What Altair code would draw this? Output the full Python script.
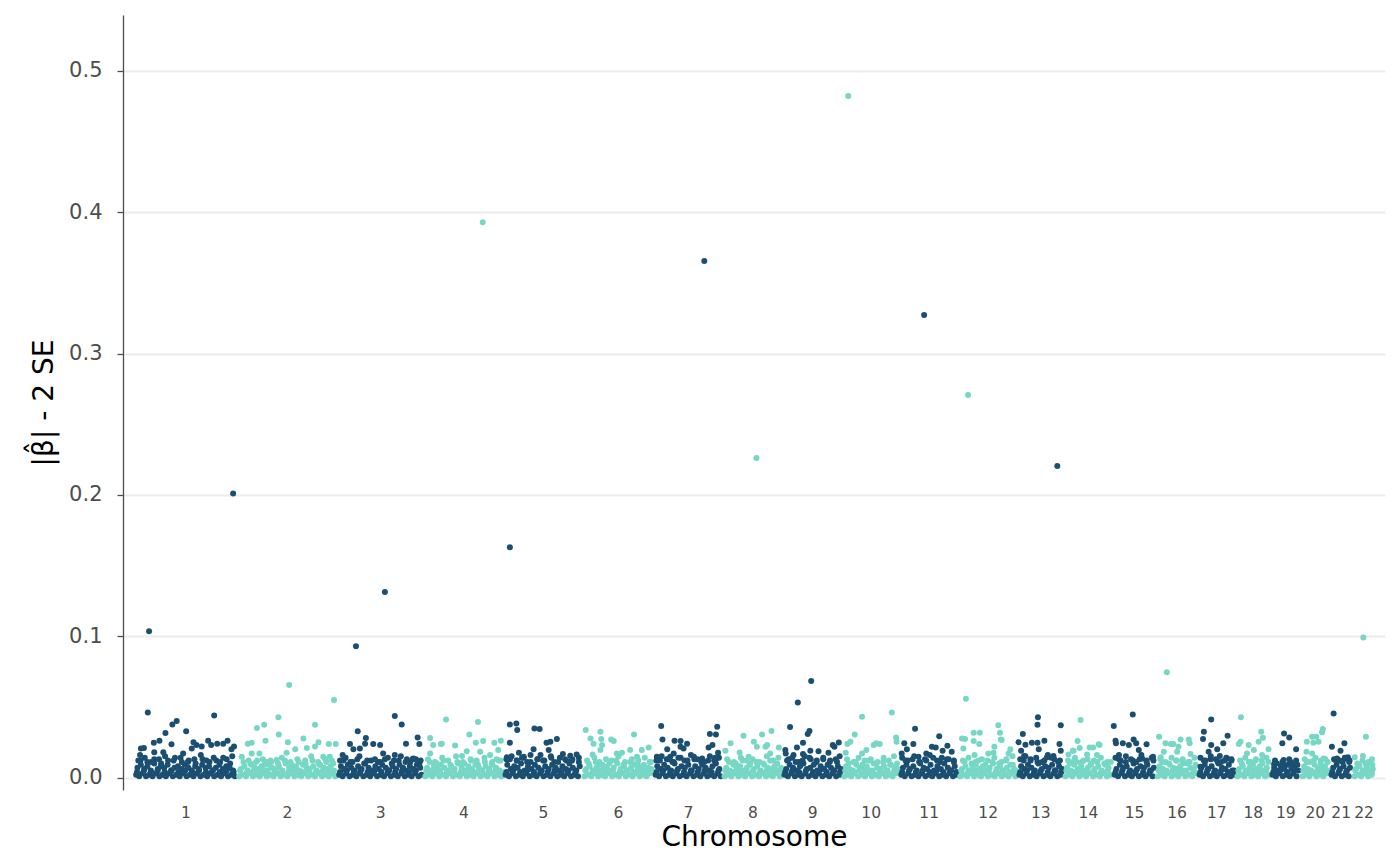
import altair as alt
import pandas as pd

chrom_names = [str(i) for i in range(1, 23)]
chrom_len_mb = [239, 232, 200, 186, 183, 165, 160, 139, 139, 132, 137, 137,
                107, 114, 100, 97, 88, 81, 70, 67, 53, 53]
y_ticks = [0.0, 0.1, 0.2, 0.3, 0.4, 0.5]
colors = ["#1B4F72", "#76D7C4"]

# (position within chromosome in Mb, value x 1000)
c01 = [(5,2),(8,7),(12,1),(16,9),(20,3),(24,6),(28,1),(31,8),(35,2),(39,5),(43,1),(47,10),(51,3),(55,6),(59,1),(62,8),(66,2),(70,7),(74,1),(78,9),(82,3),(86,5),(90,1),(94,7),(98,2),(102,8),(106,1),(110,6),(114,3),(118,9),(122,1),(126,7),(130,2),(134,5),(138,1),(142,8),(146,3),(150,6),(154,1),(158,9),(162,2),(166,7),(170,1),(174,8),(178,3),(182,5),(186,1),(190,7),(194,2),(198,9),(202,1),(206,6),(210,3),(214,8),(218,1),(222,7),(226,2),(230,5),(234,1),
       (10,12),(25,14),(40,11),(58,13),(72,15),(92,12),(108,14),(125,11),(140,13),(155,16),(168,12),(185,14),(200,11),(215,13),(228,15),
       (14,16),(16,20.6),(23,21),(32,46),(35,103.6),(46,24.6),(47,18),(59,26),(68,18),(73,31.5),(87,23.5),(89,37.6),(99,40),(114,17),(121,32.7),(134,20.6),(138,25),(145,23),(157,22),(172,26),(179,23),(186,44),(193,24),(207,24),(217,26),(226,20),(230,201),(232,22)]
c02 = [(5,1),(9,6),(13,2),(17,8),(21,1),(25,5),(29,3),(33,9),(37,1),(41,7),(45,2),(49,6),(53,1),(57,8),(61,3),(65,5),(69,1),(73,9),(77,2),(81,7),(85,1),(89,6),(93,3),(97,8),(101,1),(105,5),(109,2),(113,10),(117,1),(121,7),(125,3),(129,6),(133,1),(137,8),(141,2),(145,5),(149,1),(153,9),(157,3),(161,7),(165,1),(169,6),(173,2),(177,8),(181,1),(185,5),(189,3),(193,9),(197,1),(201,7),(205,2),(209,6),(213,1),(217,8),(221,3),(225,5),(228,1),
       (11,14.7),(27,12),(44,11),(60,13),(78,12),(92,12.4),(104,14),(124,11),(140,13),(158,12),(172,15),(188,11),(205,13),(220,12),
       (25,24),(34,24.6),(34,17),(46,35),(52,17),(63,37.4),(66,26),(69,11),(96,42.6),(97,30.5),(115,17.5),(118,25),(121,65.5),(135,20),(154,27.7),(162,21),(181,37.4),(181,22),(189,25),(200,14.7),(213,23.7),(215,14.7),(225,54.8),(229,23.7)]
c03 = [(5,2),(9,8),(13,1),(17,6),(21,3),(25,9),(29,1),(33,7),(37,2),(41,5),(45,1),(49,8),(53,3),(57,6),(61,1),(65,10),(69,2),(73,7),(77,1),(81,5),(85,3),(89,8),(93,1),(97,6),(101,2),(105,9),(109,1),(113,7),(117,3),(121,5),(125,1),(129,8),(133,2),(137,6),(141,1),(145,9),(149,3),(153,7),(157,1),(161,5),(165,2),(169,8),(173,1),(177,6),(181,3),(185,9),(189,1),(193,7),(196,2),
       (7,12),(20,14),(36,11),(52,15),(70,12),(88,13),(100,11),(118,14),(132,12),(148,15),(170,11),(183,13),(194,12),
       (13,16),(30,23.7),(38,20),(44,93),(48,32.7),(53,20.6),(65,24),(67,28),(84,23.7),(100,23),(107,17),(111,131.3),(134,43.5),(134,16),(150,37.6),(160,24),(162,13),(177,13.5),(187,28.4),(191,23.7)]
c04 = [(5,1),(9,7),(13,2),(17,5),(21,1),(25,8),(29,3),(33,6),(37,1),(41,9),(45,2),(49,7),(53,1),(57,5),(61,3),(65,8),(69,1),(73,6),(77,2),(81,10),(85,1),(89,7),(93,3),(97,5),(101,1),(105,8),(109,2),(113,6),(117,1),(121,9),(125,3),(129,7),(133,1),(137,5),(141,2),(145,8),(149,1),(153,6),(157,3),(161,9),(165,1),(169,7),(173,2),(177,5),(181,1),
       (11,13),(27,11),(44,14),(58,12),(76,15),(92,11),(110,13),(124,12),(142,14),(160,11),(170,13),(179,12),
       (16,28),(16,17),(23,23),(41,23.7),(43,24),(53,41),(74,22.7),(90,15.2),(101,18.7),(107,30.5),(122,24.6),(127,39.3),(132,18.3),(138,393),(139,25.8),(155,16),(165,24.6),(174,19.5),(180,26)]
c05 = [(5,2),(9,9),(13,1),(17,6),(21,3),(25,8),(29,1),(33,7),(37,2),(41,10),(45,1),(49,5),(53,3),(57,8),(61,1),(65,6),(69,2),(73,9),(77,1),(81,7),(85,3),(89,5),(93,1),(97,8),(101,2),(105,6),(109,1),(113,9),(117,3),(121,7),(125,1),(129,5),(133,2),(137,8),(141,1),(145,6),(149,3),(153,10),(157,1),(161,7),(165,2),(169,5),(173,1),(177,8),
       (7,13),(19,15),(31,12),(43,14),(55,11),(63,16),(79,13),(92,12),(110,15),(118,11),(131,14),(146,12),(160,13),(175,11),
       (8,14.3),(15,163),(15,37.6),(15,24.6),(30,38.3),(32,33.6),(36,17.6),(47,14.7),(70,20),(72,34.8),(84,34.3),(86,16),(100,24.6),(105,19.5),(109,25.4),(124,27.2),(138,16.6),(155,15.4),(170,16.4)]
c06 = [(5,1),(9,6),(13,2),(17,8),(21,1),(25,5),(29,3),(33,7),(37,1),(41,9),(45,2),(49,6),(53,1),(57,8),(61,3),(65,5),(69,1),(73,7),(77,2),(81,10),(85,1),(89,6),(93,3),(97,8),(101,1),(105,5),(109,2),(113,7),(117,1),(121,9),(125,3),(129,6),(133,1),(137,8),(141,2),(145,5),(149,1),(153,7),(157,3),(160,6),
       (11,12),(28,14),(40,11),(55,13),(68,12),(84,15),(99,11),(115,13),(130,12),(145,14),(156,11),
       (8,33.6),(19,27.7),(24,16.4),(26,24),(42,32.4),(42,19.5),(44,27.2),(46,23),(67,27),(73,25.8),(80,17),(92,17.5),(111,19.5),(120,30.5),(127,14.7),(138,19.5),(154,21.3)]
c07 = [(5,2),(9,8),(13,1),(17,6),(21,3),(25,9),(29,1),(33,7),(37,2),(41,5),(45,1),(49,10),(53,3),(57,6),(61,1),(65,8),(69,2),(73,7),(77,1),(81,9),(85,3),(89,5),(93,1),(97,8),(101,2),(105,6),(109,1),(113,9),(117,3),(121,7),(125,1),(129,5),(133,2),(137,8),(141,1),(145,10),(149,3),(153,6),(156,1),
       (7,12),(19,15),(35,13),(44,11),(58,14),(72,12),(87,16),(102,13),(118,11),(131,15),(141,12),(152,14),
       (8,14.7),(18,36.4),(21,27),(32,20),(39,14.7),(47,17),(49,26),(63,25.8),(63,21.8),(70,20.6),(78,24),(94,14.7),(113,13.5),(118,365.5),(128,21.3),(131,30.8),(137,23),(145,30.5),(146,13.5),(148,36),(150,17.6)]
c08 = [(5,1),(9,7),(13,2),(17,5),(21,1),(25,9),(29,3),(33,6),(37,1),(41,8),(45,2),(49,5),(53,1),(57,7),(61,3),(65,10),(69,1),(73,6),(77,2),(81,8),(85,1),(89,5),(93,3),(97,9),(101,1),(105,7),(109,2),(113,6),(117,1),(121,8),(125,3),(129,5),(133,1),(136,7),
       (11,13),(27,11),(43,14),(56,12),(70,13),(86,11),(103,15),(118,12),(130,14),
       (7,19),(19,24.2),(40,17.8),(49,29.6),(61,14.7),(73,25.4),(79,226.1),(80,21.8),(92,30.5),(100,21.8),(104,23),(111,17),(114,33),(131,21.3)]
c09 = [(5,2),(9,6),(13,1),(17,9),(21,3),(25,7),(29,1),(33,5),(37,2),(41,8),(45,1),(49,10),(53,3),(57,6),(61,1),(65,7),(69,2),(73,9),(77,1),(81,5),(85,3),(89,8),(93,1),(97,6),(101,2),(105,9),(109,1),(113,7),(117,3),(121,5),(125,1),(129,8),(133,2),(136,6),
       (11,12),(23,14),(38,11),(52,15),(66,13),(80,12),(95,14),(110,11),(124,13),(133,15),
       (7,19.5),(8,17),(18,35.7),(26,16),(34,21.3),(36,53.2),(48,24.6),(48,16.6),(59,30.8),(63,33),(65,19),(67,68.3),(84,18.7),(107,17.6),(117,23),(121,21.8),(131,24.9)]
c10 = [(5,1),(9,8),(13,2),(17,6),(21,1),(25,5),(29,3),(33,9),(37,1),(41,7),(45,2),(49,6),(53,1),(57,8),(61,3),(65,5),(69,1),(73,10),(77,2),(81,7),(85,1),(89,6),(93,3),(97,8),(101,1),(105,5),(109,2),(113,9),(117,1),(121,7),(125,3),(129,6),
       (11,13),(26,11),(38,14),(52,12),(66,13),(82,11),(96,14),(108,12),(120,15),
       (8,17.6),(12,23.7),(14,482.3),(19,25.4),(29,30.5),(46,43),(46,17),(56,19.5),(73,23),(79,24.2),(87,23.7),(115,46),(125,28.4),(126,25.4)]
c11 = [(5,2),(9,7),(13,1),(17,9),(21,3),(25,6),(29,1),(33,8),(37,2),(41,5),(45,1),(49,10),(53,3),(57,7),(61,1),(65,6),(69,2),(73,9),(77,1),(81,5),(85,3),(89,8),(93,1),(97,6),(101,2),(105,10),(109,1),(113,7),(117,3),(121,5),(125,1),(129,8),(133,2),
       (7,14),(20,12),(35,15),(47,11),(60,13),(71,16),(88,12),(99,14),(115,13),(127,11),
       (6,17),(12,24.2),(18,20),(33,23.7),(37,34.5),(45,14.7),(58,327.3),(63,17),(76,21.8),(85,21.3),(93,29.3),(101,19),(112,22.5),(122,18.3)]
c12 = [(5,1),(9,6),(13,2),(17,8),(21,1),(25,5),(29,3),(33,7),(37,1),(41,9),(45,2),(49,6),(53,1),(57,8),(61,3),(65,5),(69,1),(73,7),(77,2),(81,10),(85,1),(89,6),(93,3),(97,8),(101,1),(105,5),(109,2),(113,7),(117,1),(121,9),(125,3),(129,6),(133,1),
       (11,12),(24,14),(40,11),(55,13),(68,12),(84,14),(100,11),(112,13),(126,15),
       (9,27.7),(12,20.6),(16,27.2),(18,55.8),(23,270.7),(36,31.7),(36,25.8),(38,16),(49,23.7),(50,31.7),(70,17),(82,17.5),(84,21.8),(93,37),(97,31.7),(99,27),(101,26.5),(117,17),(121,20)]
c13 = [(5,2),(9,8),(13,1),(17,6),(21,3),(25,9),(29,1),(33,7),(37,2),(41,5),(45,1),(49,10),(53,3),(57,6),(61,1),(65,8),(69,2),(73,7),(77,1),(81,9),(85,3),(89,5),(93,1),(97,8),(101,2),(104,6),
       (7,13),(19,15),(31,12),(44,14),(58,11),(71,16),(86,13),(99,12),
       (3,25),(9,19),(13,30.8),(16,15.2),(19,23.2),(34,24.6),(47,37.4),(47,24.6),(48,42.6),(50,20),(63,26),(69,14.3),(84,15.2),(93,220.4),(98,23.7),(101,37),(101,19)]
c14 = [(5,1),(9,7),(13,2),(17,5),(21,1),(25,9),(29,3),(33,6),(37,1),(41,8),(45,2),(49,5),(53,1),(57,7),(61,3),(65,10),(69,1),(73,6),(77,2),(81,8),(85,1),(89,5),(93,3),(97,9),(101,1),(105,7),(109,2),
       (11,12),(27,14),(43,11),(56,13),(71,12),(87,14),(102,11),
       (12,16.4),(22,19),(24,19),(25,12),(33,25.8),(38,21),(40,40.7),(55,16.4),(61,21.3),(69,21.3),(78,16),(82,23.5),(84,23)]
c15 = [(5,2),(9,6),(13,1),(17,9),(21,3),(25,7),(29,1),(33,8),(37,2),(41,5),(45,1),(49,10),(53,3),(57,6),(61,1),(65,8),(69,2),(73,7),(77,1),(81,9),(85,3),(89,5),(93,1),(96,7),
       (7,14),(19,12),(31,15),(43,13),(55,11),(67,16),(79,12),(91,14),
       (3,36.4),(7,26),(8,24.2),(15,16),(24,24.2),(38,23),(47,44.7),(49,27),(55,24.2),(61,19.5),(69,13.5),(79,23.5),(94,14.7)]
c16 = [(5,1),(9,8),(13,2),(17,6),(21,1),(25,5),(29,3),(33,9),(37,1),(41,7),(45,2),(49,6),(53,1),(57,8),(61,3),(65,5),(69,1),(73,10),(77,2),(81,7),(85,1),(89,6),(93,3),
       (11,13),(23,11),(37,14),(50,12),(63,13),(76,11),(90,14),
       (8,28.9),(12,14.3),(19,18.3),(23,24.2),(26,74.6),(35,23.7),(41,23.7),(50,18.3),(53,21.8),(58,27),(77,27),(79,24.2),(81,16.6)]
c17 = [(5,2),(9,7),(13,1),(17,9),(21,3),(25,6),(29,1),(33,8),(37,2),(41,5),(45,1),(49,10),(53,3),(57,7),(61,1),(65,6),(69,2),(73,9),(77,1),(81,5),(84,2),
       (7,14),(19,12),(31,15),(43,13),(55,11),(67,14),(79,12),
       (7,7.7),(13,27.2),(15,32.4),(26,18.3),(32,41),(32,23),(46,20),(52,15.2),(60,24.2),(69,13.5),(70,29.6)]
c18 = [(5,1),(9,6),(13,2),(17,8),(21,1),(25,5),(29,3),(33,7),(37,1),(41,9),(45,2),(49,6),(53,1),(57,8),(61,3),(65,5),(69,1),(73,7),(77,2),
       (11,12),(23,14),(36,11),(48,13),(61,12),(72,14),
       (8,23.7),(12,25.4),(13,42.6),(27,17),(31,23),(43,19.5),(54,25.4),(60,32.4),(62,16),(64,28.2),(77,20)]
c19 = [(5,2),(9,7),(13,1),(17,5),(21,3),(25,8),(29,1),(33,6),(37,2),(41,9),(45,1),(49,6),(53,3),(57,8),(61,1),(65,5),
       (11,12),(28,11),(44,13),(60,12),
       (9,9.5),(28,24.2),(31,12.4),(32,31.2),(44,28.4),(50,10),(60,20)]
c20 = [(5,1),(9,8),(13,2),(17,6),(21,1),(25,5),(29,3),(33,9),(37,1),(41,7),(45,2),(49,6),(53,1),(57,8),(61,3),(64,5),
       (10,13),(22,11),(35,14),(47,12),(58,13),
       (14,18.3),(15,25.4),(27,28.9),(27,17),(30,24.6),(37,28.9),(42,25.4),(50,32),(52,34.3),(54,13.5)]
c21 = [(5,2),(9,7),(13,1),(17,9),(21,3),(25,6),(29,1),(33,8),(37,2),(41,5),(45,1),(48,7),
       (11,13),(24,12),(36,14),(46,11),
       (6,21.8),(10,45.4),(18,13.5),(26,19),(35,24.2),(37,13.5),(43,14.3)]
c22 = [(6,1),(9,6),(13,2),(17,8),(21,1),(25,5),(29,3),(33,7),(37,1),(41,9),(45,2),(48,6),
       (12,10),(24,12),(38,11),(46,13),
       (6,14.3),(25,15.2),(26,99.1),(32,28.9),(46,3)]

# extra points filling the dense band
e01 = [(7,4),(15,12),(23,5),(31,11),(39,4),(47,13),(55,5),(63,10),(71,4),(79,12),(87,5),(95,14),(103,4),(111,11),(119,5),(127,12),(135,4),(143,10),(151,5),(159,13),(167,4),(175,11),(183,5),(191,12),(199,4),(207,14),(215,5),(223,10),(231,4)]
e02 = [(7,5),(15,11),(23,4),(31,10),(39,5),(47,12),(55,4),(63,9),(71,5),(79,11),(87,4),(95,10),(103,5),(111,12),(119,4),(127,9),(135,5),(143,11),(151,4),(159,10),(167,5),(175,12),(183,4),(191,9),(199,5),(207,11),(215,4),(223,10)]
e03 = [(7,4),(15,12),(23,5),(31,11),(39,4),(47,13),(55,5),(63,10),(71,4),(79,12),(87,5),(95,11),(103,4),(111,13),(119,5),(127,10),(135,4),(143,12),(151,5),(159,11),(167,4),(175,13),(183,5),(191,10)]
e04 = [(7,5),(15,11),(23,4),(31,10),(39,5),(47,12),(55,4),(63,9),(71,5),(79,11),(87,4),(95,10),(103,5),(111,12),(119,4),(127,9),(135,5),(143,11),(151,4),(159,10),(167,5),(175,12),(182,4)]
e05 = [(7,4),(15,13),(23,5),(31,12),(39,4),(47,14),(55,5),(63,11),(71,4),(79,13),(87,5),(95,12),(103,4),(111,14),(119,5),(127,11),(135,4),(143,13),(151,5),(159,12),(167,4),(175,14)]
e06 = [(7,5),(15,10),(23,4),(31,11),(39,5),(47,9),(55,4),(63,10),(71,5),(79,12),(87,4),(95,9),(103,5),(111,11),(119,4),(127,10),(135,5),(143,9),(151,4),(159,11)]
e07 = [(7,4),(15,12),(23,5),(31,13),(39,4),(47,11),(55,5),(63,14),(71,4),(79,12),(87,5),(95,13),(103,4),(111,11),(119,5),(127,12),(135,4),(143,14),(151,5)]
e08 = [(7,5),(15,11),(23,4),(31,10),(39,5),(47,12),(55,4),(63,9),(71,5),(79,11),(87,4),(95,10),(103,5),(111,12),(119,4),(127,10),(134,5)]
e09 = [(7,4),(15,13),(23,5),(31,11),(39,4),(47,12),(55,5),(63,14),(71,4),(79,11),(87,5),(95,13),(103,4),(111,12),(119,5),(127,11),(134,4)]
e10 = [(7,5),(15,10),(23,4),(31,11),(39,5),(47,9),(55,4),(63,12),(71,5),(79,10),(87,4),(95,11),(103,5),(111,9),(119,4),(127,10)]
e11 = [(7,4),(15,12),(23,5),(31,13),(39,4),(47,11),(55,5),(63,12),(71,4),(79,14),(87,5),(95,11),(103,4),(111,13),(119,5),(127,12),(133,4)]
e12 = [(7,5),(15,11),(23,4),(31,10),(39,5),(47,12),(55,4),(63,9),(71,5),(79,11),(87,4),(95,10),(103,5),(111,12),(119,4),(127,9),(133,5)]
e13 = [(7,4),(15,12),(23,5),(31,13),(39,4),(47,11),(55,5),(63,12),(71,4),(79,14),(87,5),(95,11),(102,4)]
e14 = [(7,5),(15,10),(23,4),(31,11),(39,5),(47,12),(55,4),(63,9),(71,5),(79,11),(87,4),(95,10),(103,5),(110,11)]
e15 = [(7,4),(15,13),(23,5),(31,11),(39,4),(47,12),(55,5),(63,13),(71,4),(79,11),(87,5),(95,12)]
e16 = [(7,5),(15,11),(23,4),(31,10),(39,5),(47,12),(55,4),(63,10),(71,5),(79,11),(87,4),(93,9)]
e17 = [(7,4),(15,12),(23,5),(31,13),(39,4),(47,11),(55,5),(63,12),(71,4),(79,13),(85,5)]
e18 = [(7,5),(15,10),(23,4),(31,11),(39,5),(47,12),(55,4),(63,10),(71,5),(77,11)]
e19 = [(7,4),(15,10),(23,5),(31,9),(39,4),(47,11),(55,5),(63,9)]
e20 = [(7,5),(15,11),(23,4),(31,12),(39,5),(47,10),(55,4),(63,11)]
e21 = [(7,4),(15,12),(23,5),(31,11),(39,4),(47,12)]
e22 = [(7,5),(15,9),(23,4),(31,10),(39,5),(47,9)]

chrom_points = [c01, c02, c03, c04, c05, c06, c07, c08, c09, c10, c11,
                c12, c13, c14, c15, c16, c17, c18, c19, c20, c21, c22]
extra_points = [e01, e02, e03, e04, e05, e06, e07, e08, e09, e10, e11,
                e12, e13, e14, e15, e16, e17, e18, e19, e20, e21, e22]

offsets = []
acc = 0
for L in chrom_len_mb:
    offsets.append(acc)
    acc += L
total = acc
centers = [offsets[i] + chrom_len_mb[i] / 2 for i in range(len(chrom_len_mb))]

rows = []
for i in range(len(chrom_names)):
    for p, v in extra_points[i] + chrom_points[i]:
        rows.append({"x": offsets[i] + p, "y": v / 1000.0,
                     "grp": "odd" if i % 2 == 0 else "even",
                     "chrom": chrom_names[i]})
df = pd.DataFrame(rows)

px_per_mb = 1241.0 / total
x_lo = -11.0 / px_per_mb
x_hi = total + 10.0 / px_per_mb

names_js = "[" + ",".join("'" + n + "'" for n in chrom_names) + "]"
centers_js = "[" + ",".join(repr(c) for c in centers) + "]"
label_expr = names_js + "[indexof(" + centers_js + ", datum.value)]"

chart = alt.Chart(df).mark_circle(size=36, opacity=1).encode(
    x=alt.X("x:Q",
            scale=alt.Scale(domain=[x_lo, x_hi], nice=False, zero=False),
            axis=alt.Axis(values=centers, labelExpr=label_expr, title="Chromosome",
                          grid=False, domain=False, ticks=False, tickSize=0,
                          labelFontSize=15.5, labelColor="#4d4d4d", labelPadding=27,
                          labelBaseline="alphabetic", labelOverlap=False, labelFlush=False,
                          titleFontSize=28, titleColor="#000000", titleFontWeight="normal",
                          titleBaseline="alphabetic", titleY=55, titleX=631)),
    y=alt.Y("y:Q",
            scale=alt.Scale(domain=[-0.0088, 0.5396], nice=False, zero=False),
            axis=alt.Axis(values=y_ticks, format=".1f", title="|β̂| - 2 SE",
                          grid=True, gridColor="#ebebeb", gridWidth=2,
                          domain=True, domainColor="#4d4d4d", domainWidth=1.3,
                          ticks=True, tickSize=6, tickColor="#4d4d4d", tickWidth=1.3,
                          labelFontSize=21, labelColor="#4d4d4d", labelPadding=15,
                          titleFontSize=28, titleColor="#000000", titleFontWeight="normal",
                          titleAngle=270, titleBaseline="alphabetic",
                          titleX=-71, titleY=387.5)),
    color=alt.Color("grp:N", scale=alt.Scale(domain=["odd", "even"], range=colors), legend=None),
).properties(
    width=1262, height=775,
    padding={"left": 115, "top": 7, "right": 7, "bottom": 66},
    autosize=alt.AutoSizeParams(type="none"),
).configure(
    font="DejaVu Sans",
).configure_axis(
    labelFont="DejaVu Sans", titleFont="DejaVu Sans",
).configure_view(stroke=None)

chart.save("out.html", embed_options={"renderer": "svg", "actions": False})
